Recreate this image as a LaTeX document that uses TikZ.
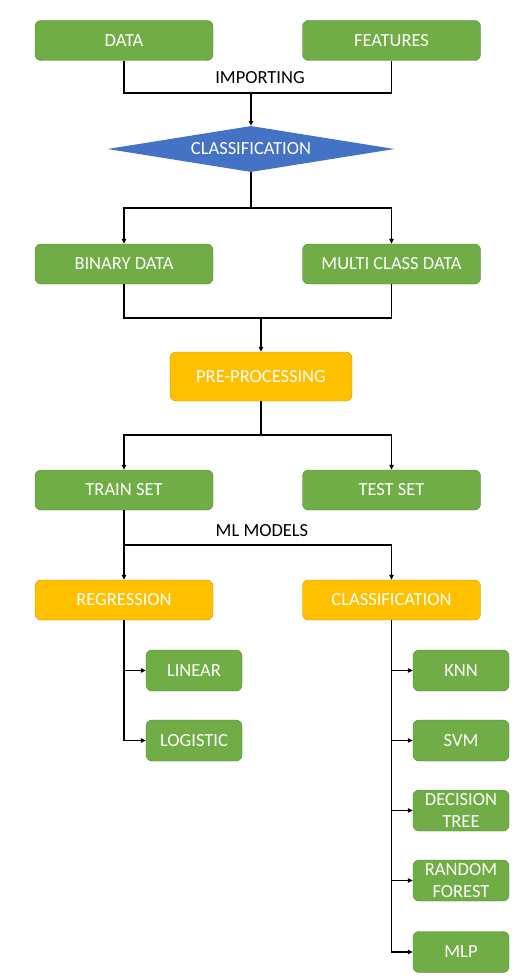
\documentclass[tikz,border=0pt]{standalone}
\usepackage{fontspec}
\setmainfont{Carlito}
\usetikzlibrary{shapes.geometric,arrows.meta}
\definecolor{boxgreen}{HTML}{70AD47}
\definecolor{edgegreen}{HTML}{548235}
\definecolor{boxyellow}{HTML}{FFC000}
\definecolor{edgeyellow}{HTML}{C99A06}
\definecolor{boxblue}{HTML}{4472C4}
\tikzset{
    greenbox/.style={draw=edgegreen, fill=boxgreen, rounded corners=6pt, text=white,
        minimum width=178pt, minimum height=40pt, inner sep=0pt, align=center,
        font=\fontsize{18.5}{21.5}\selectfont},
    smallbox/.style={greenbox, minimum width=96pt, minimum height=41pt},
    yellowbox/.style={greenbox, draw=edgeyellow, fill=boxyellow},
    flowline/.style={line width=1.2pt},
    flowarrow/.style={flowline, -{Triangle[length=5pt,width=4.5pt]}},
    tag/.style={font=\fontsize{18.5}{21.5}\selectfont}
}
\begin{document}
\begin{tikzpicture}[x=1pt, y=-1pt]
    \useasboundingbox[fill=white] (0,0) rectangle (530,979);

    % Inputs
    \node[greenbox] (data) at (124,40.5) {DATA};
    \node[greenbox] (feat) at (391.5,40.5) {FEATURES};
    \node[tag] (imp) at (260,78) {IMPORTING};
    \node[diamond, aspect=6.24, fill=boxblue, text=white, minimum width=287pt, minimum height=46pt,
        inner sep=0pt, font=\fontsize{18.5}{21.5}\selectfont] (cls) at (251,149) {CLASSIFICATION};
    \coordinate (j1) at (251,93);
    \draw[flowline] (data.south) |- (j1) -| (feat.south);
    \draw[flowarrow] (j1) -- (cls.north);

    % Data types
    \node[greenbox] (bin) at (124,264) {BINARY DATA};
    \node[greenbox] (multi) at (391.5,264) {MULTI CLASS DATA};
    \coordinate (j2) at (251,208);
    \draw[flowline] (cls.south) -- (j2);
    \draw[flowarrow] (j2) -| (bin.north);
    \draw[flowarrow] (j2) -| (multi.north);

    % Pre-processing
    \node[yellowbox, minimum width=182pt, minimum height=49pt] (pre) at (261,376.5) {PRE-PROCESSING};
    \coordinate (j3) at (261,318);
    \draw[flowline] (bin.south) |- (j3) -| (multi.south);
    \draw[flowarrow] (j3) -- (pre.north);

    % Split
    \node[greenbox] (train) at (124,490) {TRAIN SET};
    \node[greenbox] (test) at (391.5,490) {TEST SET};
    \coordinate (j4) at (261,435);
    \draw[flowline] (pre.south) -- (j4);
    \draw[flowarrow] (j4) -| (train.north);
    \draw[flowarrow] (j4) -| (test.north);

    % Models
    \node[tag] (ml) at (262,531) {ML MODELS};
    \node[yellowbox] (reg) at (124,600) {REGRESSION};
    \node[yellowbox] (clf) at (391.5,600) {CLASSIFICATION};
    \coordinate (j5) at (124,545);
    \draw[flowline] (train.south) -- (j5);
    \draw[flowarrow] (j5) -- (reg.north);
    \draw[flowarrow] (j5) -| (clf.north);

    % Regression models
    \node[smallbox] (lin) at (194,670.5) {LINEAR};
    \node[smallbox] (logi) at (194,740.5) {LOGISTIC};
    \draw[flowarrow] (reg.south) |- (lin.west);
    \draw[flowarrow] (reg.south) |- (logi.west);

    % Classification models
    \foreach \y/\n/\t in {670.5/knn/KNN, 740.5/svm/SVM, 810.5/dt/DECISION\\TREE,
        880.5/rf/RANDOM\\FOREST, 952/mlp/MLP} {
        \node[smallbox] (\n) at (461,\y) {\t};
        \draw[flowarrow] (clf.south) |- (\n.west);
    }
\end{tikzpicture}
\end{document}
